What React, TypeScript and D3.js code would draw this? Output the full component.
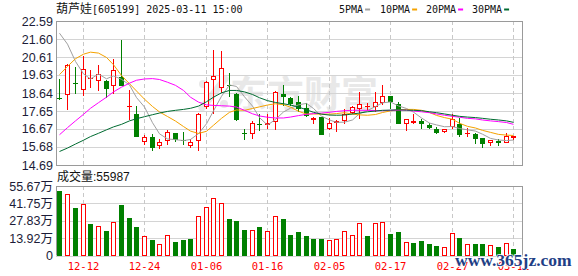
import React from 'react';
import * as d3 from 'd3';

// ---------------- data ----------------
const title = '葫芦娃[605199] 2025-03-11 15:00';
const volumeLabel = '成交量';
const lastVolume = 55987;

const dates = [
  '12-09','12-10','12-11','12-12','12-13','12-16','12-17','12-18','12-19','12-20',
  '12-23','12-24','12-25','12-26','12-27','12-30','12-31','01-02','01-03','01-06',
  '01-07','01-08','01-09','01-10','01-13','01-14','01-15','01-16','01-17','01-20',
  '01-21','01-22','01-23','01-24','01-27','02-05','02-06','02-07','02-10','02-11',
  '02-12','02-13','02-14','02-17','02-18','02-19','02-20','02-21','02-24','02-25',
  '02-26','02-27','02-28','03-03','03-04','03-05','03-06','03-07','03-10','03-11',
];

const openP = [
  18.36, 18.54, 19.21, 18.80, 19.41, 19.30, 19.32, 19.05, 19.52, 17.88,
  17.47, 15.93, 16.25, 15.71, 15.98, 16.43, 16.07, 15.74, 16.02, 17.89,
  19.36, 18.92, 19.08, 18.61, 16.44, 16.38, 16.96, 16.89, 17.07, 18.56,
  18.38, 18.16, 17.83, 17.14, 17.35, 16.65, 16.99, 17.11, 17.56, 17.74,
  17.87, 17.87, 18.10, 18.45, 18.01, 16.96, 17.02, 17.11, 16.89, 16.65,
  16.51, 16.78, 16.96, 16.38, 16.38, 16.16, 15.87, 16.02, 15.92, 16.16,
];
const highP = [
  19.43, 20.23, 20.05, 20.68, 19.92, 20.19, 19.38, 20.52, 21.56, 18.83,
  17.92, 16.33, 16.38, 16.11, 16.60, 16.45, 16.52, 16.14, 17.56, 19.28,
  21.01, 20.97, 19.72, 18.65, 16.69, 17.11, 17.51, 17.47, 18.74, 19.07,
  18.41, 18.47, 18.11, 17.32, 17.35, 17.29, 17.14, 17.74, 17.92, 18.70,
  18.10, 18.70, 19.10, 18.47, 18.16, 17.20, 17.51, 17.20, 17.02, 16.78,
  16.69, 17.51, 17.29, 16.74, 16.47, 16.16, 16.05, 16.11, 16.47, 16.29,
];
const lowP = [
  18.28, 17.70, 18.61, 18.47, 18.89, 18.74, 18.38, 18.60, 19.01, 17.14,
  16.20, 15.78, 15.47, 15.56, 15.80, 15.93, 15.78, 15.65, 15.47, 17.78,
  17.47, 18.65, 18.41, 17.11, 16.05, 16.11, 16.56, 16.65, 16.60, 17.92,
  17.92, 17.61, 17.34, 16.92, 16.32, 16.60, 16.52, 16.92, 17.47, 17.20,
  17.65, 17.61, 17.98, 17.74, 16.92, 16.56, 16.92, 16.65, 16.65, 16.38,
  16.42, 16.65, 16.20, 16.24, 15.83, 15.65, 15.74, 15.74, 15.92, 16.07,
];
const closeP = [
  18.29, 20.19, 19.12, 19.98, 19.45, 19.68, 18.87, 19.92, 19.01, 17.92,
  16.23, 16.25, 15.65, 15.93, 16.52, 16.05, 16.02, 15.94, 17.51, 19.25,
  19.59, 20.01, 19.02, 17.14, 16.40, 17.02, 16.87, 16.98, 18.70, 18.43,
  18.05, 17.78, 17.38, 17.29, 16.34, 17.02, 17.10, 17.47, 17.89, 18.05,
  17.91, 18.16, 18.50, 18.14, 16.96, 17.20, 17.13, 16.92, 16.74, 16.47,
  16.69, 17.20, 16.34, 16.42, 16.11, 15.83, 16.05, 15.87, 16.29, 16.26,
];
const prevClose = 18.9;

const volume = [
  519000, 492000, 379000, 409000, 250000, 239000, 196000, 266000, 403000, 299000,
  226000, 159000, 121000, 94000, 167000, 108000, 121000, 129000, 320000, 385000,
  457000, 420000, 290000, 274000, 202000, 202000, 226000, 194000, 320000, 290000,
  161000, 188000, 153000, 129000, 129000, 121000, 129000, 194000, 167000, 258000,
  153000, 258000, 266000, 169000, 186000, 105000, 97000, 113000, 89000, 73000,
  65000, 177000, 137000, 89000, 89000, 89000, 81000, 65000, 97000, 55987,
];

const ma5 = [
  21.92, 21.32, 20.37, 19.69, 19.41, 19.68, 19.42, 19.58, 19.39, 19.08,
  18.39, 17.87, 17.01, 16.40, 16.12, 16.08, 16.03, 16.09, 16.41, 16.95,
  17.66, 18.46, 19.08, 19.00, 18.43, 17.92, 17.29, 16.88, 17.19, 17.60,
  17.81, 17.99, 18.07, 17.79, 17.37, 17.16, 17.03, 17.04, 17.16, 17.51,
  17.68, 17.90, 18.10, 18.15, 17.93, 17.79, 17.59, 17.27, 16.99, 16.89,
  16.79, 16.80, 16.69, 16.62, 16.55, 16.38, 16.15, 16.06, 16.03, 16.06,
];
const ma10 = [
  19.65, 20.10, 20.52, 20.77, 20.88, 20.83, 20.59, 20.19, 19.60, 19.15,
  18.75, 18.30, 17.90, 17.60, 17.35, 17.10, 16.80, 16.55, 16.42, 16.54,
  16.87, 17.25, 17.58, 17.71, 17.69, 17.79, 17.88, 17.98, 18.05, 18.00,
  17.86, 17.64, 17.48, 17.49, 17.48, 17.48, 17.51, 17.56, 17.48, 17.44,
  17.42, 17.46, 17.57, 17.66, 17.72, 17.74, 17.74, 17.69, 17.57, 17.41,
  17.29, 17.20, 16.98, 16.81, 16.72, 16.59, 16.48, 16.37, 16.33, 16.31,
];
const ma20 = [
  16.35, 16.74, 17.11, 17.47, 17.80, 18.11, 18.41, 18.70, 18.96, 19.18,
  19.34, 19.41, 19.43, 19.38, 19.23, 19.06, 18.78, 18.41, 18.14, 17.99,
  17.96, 17.94, 17.92, 17.87, 17.69, 17.50, 17.38, 17.31, 17.27, 17.27,
  17.32, 17.40, 17.47, 17.51, 17.54, 17.58, 17.63, 17.67, 17.69, 17.69,
  17.69, 17.67, 17.67, 17.69, 17.70, 17.70, 17.65, 17.61, 17.56, 17.49,
  17.42, 17.36, 17.31, 17.25, 17.22, 17.16, 17.11, 17.07, 17.02, 16.92,
];
const ma30 = [
  15.43, 15.62, 15.84, 16.05, 16.25, 16.43, 16.62, 16.78, 16.92, 17.11,
  17.23, 17.34, 17.45, 17.54, 17.63, 17.69, 17.74, 17.80, 17.92, 18.16,
  18.41, 18.65, 18.78, 18.78, 18.70, 18.56, 18.38, 18.22, 18.12, 18.05,
  17.98, 17.87, 17.72, 17.58, 17.48, 17.43, 17.42, 17.43, 17.49, 17.54,
  17.61, 17.65, 17.69, 17.70, 17.72, 17.70, 17.69, 17.67, 17.61, 17.56,
  17.49, 17.42, 17.36, 17.32, 17.29, 17.25, 17.20, 17.16, 17.11, 17.03,
];

const priceTicks = [22.59, 21.60, 20.61, 19.63, 18.64, 17.65, 16.67, 15.68, 14.69];
const volumeTicks = [556700, 417500, 278300, 139200, 0];
const dateTicks = ['12-12', '12-24', '01-06', '01-16', '02-05', '02-17', '02-27', '03-11'];
const maNames = ['5PMA', '10PMA', '20PMA', '30PMA'];

// ---------------- styles / layout ----------------
const W = 578;
const H = 276;
const PL = 56;
const PR = 523;
const MAIN_TOP = 21;
const MAIN_BOT = 165;
const VOL_TOP = 186;
const VOL_BOT = 255.5;
const RED = '#ff0000';
const GREEN = '#008000';
const MA_COLORS = ['#a0a0a0', '#f5a300', '#ff00ff', '#006b31'];
const LEGEND_X = [339, 380, 426, 472];
const AXIS_TEXT = '#1c1c38';
const GRID = '#d4d4d4';
const BORDER = '#9a9a9a';
const MONO = "'DejaVu Sans Mono', 'Noto Sans CJK SC', monospace";
const SANS = "'Liberation Sans', Arial, 'Noto Sans CJK SC', sans-serif";

export default function App() {
  const x = d3.scaleBand<string>().domain(dates).range([56.15, 517.55]);
  const step = x.step();
  const cx = (i: number) => Math.floor((x(dates[i]) as number) + step / 2) + 0.5;
  const y = d3.scaleLinear().domain([14.69, 22.59]).range([MAIN_BOT, MAIN_TOP]);
  const yv = d3.scaleLinear().domain([0, 556700]).range([VOL_BOT, VOL_TOP]);
  const snap = (v: number) => Math.round(v) + 0.5;

  const maSeries = [ma5, ma10, ma20, ma30];
  const line = d3
    .line<number>()
    .x((_, i) => cx(i))
    .y((d) => y(d));

  const m = title.match(/^([^\x00-\x7f]+)(.*)$/);
  const titleCjk = m ? m[1] : title;
  const titleRest = m ? m[2] : '';

  const tickIdx = dateTicks.map((t) => dates.indexOf(t));

  return (
    <>
      <style>{`html,body{margin:0;padding:0;background:#fff;}`}</style>
      <svg width={W} height={H} style={{ display: 'block' }} xmlns="http://www.w3.org/2000/svg">
        <rect x={0} y={0} width={W} height={H} fill="#fff" />

        {/* title */}
        <text x={56} y={13} fill="#111" fontFamily={MONO}>
          <tspan fontSize={12} fontFamily="'Noto Sans CJK SC', sans-serif">{titleCjk}</tspan>
          <tspan fontSize={10}>{titleRest}</tspan>
        </text>

        {/* legend */}
        {maNames.map((n, k) => (
          <g key={n}>
            <text x={LEGEND_X[k]} y={12.5} fontSize={10} fontFamily={MONO} fill="#111">
              {n}
            </text>
            <line
              x1={LEGEND_X[k] + n.length * 6.02 + 2}
              x2={LEGEND_X[k] + n.length * 6.02 + 7}
              y1={9.5}
              y2={9.5}
              stroke={MA_COLORS[k]}
              strokeWidth={2}
            />
          </g>
        ))}

        {/* watermark logo + text */}
        <g opacity={1}>
          <line x1={202} y1={108} x2={225} y2={79} stroke="#e8e8e8" strokeWidth={7} strokeLinecap="round" />
          <circle cx={203} cy={84} r={4} fill="#e8e8e8" />
          <circle cx={224} cy={104} r={4} fill="#e8e8e8" />
          <text
            x={230}
            y={107.5}
            fontSize={37}
            fontWeight="bold"
            fontFamily="'Noto Sans CJK SC', sans-serif"
            fill="#e8e8e8"
          >
            东方财富
          </text>
        </g>

        {/* main grid */}
        {priceTicks.map((t) => (
          <line key={'hg' + t} x1={PL} x2={PR} y1={snap(y(t))} y2={snap(y(t))} stroke={GRID} />
        ))}
        {tickIdx.map((i) => (
          <line
            key={'vg' + i}
            x1={cx(i)}
            x2={cx(i)}
            y1={MAIN_TOP}
            y2={MAIN_BOT}
            stroke="#c8c8c8"
            strokeDasharray="4,3"
          />
        ))}

        {/* volume grid */}
        {volumeTicks.map((t) => (
          <line key={'vh' + t} x1={PL} x2={PR} y1={snap(yv(t))} y2={snap(yv(t))} stroke={GRID} />
        ))}
        {tickIdx.map((i) => (
          <line
            key={'vv' + i}
            x1={cx(i)}
            x2={cx(i)}
            y1={VOL_TOP}
            y2={VOL_BOT}
            stroke="#c8c8c8"
            strokeDasharray="4,3"
          />
        ))}

        {/* candles */}
        {dates.map((d, i) => {
          const o = openP[i];
          const c = closeP[i];
          const up = c >= o;
          const col = up ? RED : GREEN;
          const yTop = Math.round(y(Math.max(o, c)));
          const yBot = Math.round(y(Math.min(o, c)));
          const h = Math.max(yBot - yTop, 1);
          const xc = cx(i);
          return (
            <g key={'c' + d}>
              <line x1={xc} x2={xc} y1={Math.round(y(highP[i]))} y2={Math.round(y(lowP[i]))} stroke={col} />
              {up ? (
                <rect x={xc - 2} y={yTop + 0.5} width={4} height={Math.max(h - 1, 0.01)} fill="#fff" stroke={col} />
              ) : (
                <rect x={xc - 2.5} y={yTop} width={5} height={h} fill={col} />
              )}
            </g>
          );
        })}

        {/* moving averages */}
        {maSeries.map((s, k) => (
          <path key={'ma' + k} d={line(s) || ''} fill="none" stroke={MA_COLORS[k]} strokeWidth={1} />
        ))}

        {/* volume bars */}
        {dates.map((d, i) => {
          const ref = i === 0 ? prevClose : closeP[i - 1];
          const up = closeP[i] >= ref;
          const top = Math.round(yv(volume[i]));
          const bottom = Math.round(VOL_BOT);
          const xc = cx(i);
          return up ? (
            <rect
              key={'v' + d}
              x={xc - 2}
              y={top + 0.5}
              width={4}
              height={Math.max(bottom - top - 1, 0.01)}
              fill="#fff"
              stroke={RED}
            />
          ) : (
            <rect key={'v' + d} x={xc - 2.5} y={top} width={5} height={bottom - top} fill={GREEN} />
          );
        })}

        {/* borders */}
        <rect x={PL + 0.5} y={MAIN_TOP + 0.5} width={PR - PL - 1} height={MAIN_BOT - MAIN_TOP} fill="none" stroke={BORDER} />
        <line x1={PL + 0.5} x2={PL + 0.5} y1={VOL_TOP} y2={VOL_BOT} stroke={BORDER} />
        <line x1={PR - 0.5} x2={PR - 0.5} y1={VOL_TOP} y2={VOL_BOT} stroke={BORDER} />
        <line x1={PL} x2={PR} y1={VOL_TOP + 0.5} y2={VOL_TOP + 0.5} stroke={BORDER} />

        {/* price axis labels */}
        {priceTicks.map((t) => (
          <text
            key={'pl' + t}
            x={53}
            y={y(t)}
            dy="0.36em"
            textAnchor="end"
            fontSize={12.5}
            fontFamily={SANS}
            fill={AXIS_TEXT}
          >
            {t.toFixed(2)}
          </text>
        ))}

        {/* volume title */}
        <text x={57} y={181} fontSize={12} fontFamily={SANS} fill="#111">
          <tspan fontFamily="'Noto Sans CJK SC', sans-serif">{volumeLabel}</tspan>
          <tspan>:{lastVolume}</tspan>
        </text>

        {/* volume axis labels */}
        {volumeTicks.map((t) => (
          <text
            key={'vl' + t}
            x={53}
            y={yv(t)}
            dy="0.36em"
            textAnchor="end"
            fontSize={12.5}
            fontFamily={SANS}
            fill={AXIS_TEXT}
          >
            {t === 0 ? '0' : (t / 10000).toFixed(2) + '万'}
          </text>
        ))}

        {/* date labels */}
        {dateTicks.map((t, k) => (
          <text
            key={'dl' + t}
            x={cx(tickIdx[k])}
            y={270}
            textAnchor="middle"
            fontSize={10.5}
            fontFamily={MONO}
            fill={RED}
          >
            {t}
          </text>
        ))}

        {/* site watermark */}
        <text
          x={455}
          y={266}
          fontSize={17.5}
          fontWeight="bold"
          fontFamily="'Liberation Serif', 'DejaVu Serif', serif"
          fill="#1f3f86"
          stroke="#ffffff"
          strokeWidth={1.5}
          paintOrder="stroke"
        >
          www.365jz.com
        </text>
      </svg>
    </>
  );
}
